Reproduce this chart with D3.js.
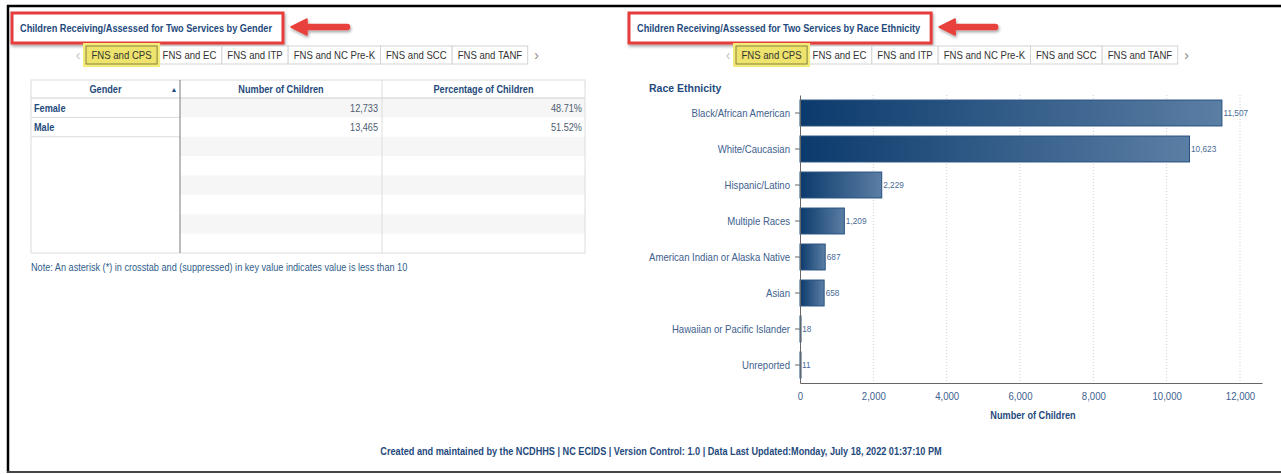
<!DOCTYPE html>
<html lang="en">
<head>
<meta charset="utf-8">
<title>Children Receiving/Assessed for Two Services</title>
<script src="https://d3js.org/d3.v7.min.js"></script>
<style>
body { margin: 0; background: #fff; font-family: "Liberation Sans", Arial, sans-serif; }
svg { display: block; }
</style>
</head>
<body>
<div id="vis"></div>
<script>

/* Data */
/* ==== */

var tabs = ['FNS and CPS', 'FNS and EC', 'FNS and ITP', 'FNS and NC Pre-K', 'FNS and SCC', 'FNS and TANF'];

var genders = ['Female', 'Male'];
var genderCounts = [12733, 13465];
var genderPcts = [48.71, 51.52];

var races = ['Black/African American', 'White/Caucasian', 'Hispanic/Latino', 'Multiple Races',
	'American Indian or Alaska Native', 'Asian', 'Hawaiian or Pacific Islander', 'Unreported'];
var raceCounts = [11507, 10623, 2229, 1209, 687, 658, 18, 11];

var xTicks = [0, 2000, 4000, 6000, 8000, 10000, 12000];

var footer = 'Created and maintained by the NCDHHS | NC ECIDS | Version Control: 1.0 | Data Last Updated:Monday, July 18, 2022 01:37:10 PM';
var note = 'Note: An asterisk (*) in crosstab and (suppressed) in key value indicates value is less than 10';


/* Globals and SVG */
/* =============== */

var W = 1281, H = 474;
var K = 0.87; // the screenshot text is a bit narrow
var navy = '#1f4a7d', soft = '#40618e';

var svg = d3.select('#vis').append('svg')
	.attr('width', W)
	.attr('height', H);

var defs = svg.append('defs');

defs.append('filter').attr('id', 'shadow')
		.attr('x', '-20%').attr('y', '-40%').attr('width', '140%').attr('height', '180%')
	.append('feDropShadow')
		.attr('dx', 1).attr('dy', 2).attr('stdDeviation', 1.5)
		.attr('flood-color', '#000').attr('flood-opacity', 0.35);

var grad = defs.append('linearGradient').attr('id', 'barGrad')
	.attr('x1', 0).attr('x2', 1).attr('y1', 0).attr('y2', 0);
grad.append('stop').attr('offset', '0%').attr('stop-color', '#0b3a6c');
grad.append('stop').attr('offset', '100%').attr('stop-color', '#5b7ea4');


/* Functions */
/* ========= */

function squeeze(sel, k) {
	var f = k || K, w = 0;
	sel.each(function() {
		w = this.getComputedTextLength() * f;
		d3.select(this).attr('textLength', w).attr('lengthAdjust', 'spacingAndGlyphs');
	});
	return w;
} // squeeze()

function drawFrame() {
	svg.append('line').attr('x1', 7).attr('x2', W).attr('y1', 6).attr('y2', 6)
		.attr('stroke', '#000').attr('stroke-width', 2.5);
	svg.append('line').attr('x1', 8).attr('x2', 8).attr('y1', 5).attr('y2', 473)
		.attr('stroke', '#000').attr('stroke-width', 2.5);
	svg.append('line').attr('x1', 7).attr('x2', W).attr('y1', 472).attr('y2', 472)
		.attr('stroke', '#444').attr('stroke-width', 2);
} // drawFrame()

function drawTitle(x, text) {

	var g = svg.append('g');
	var box = g.append('rect');
	var arrow = g.append('path');

	var t = g.append('text')
		.attr('x', x).attr('y', 32)
		.attr('font-size', 11).attr('font-weight', 'bold')
		.attr('fill', navy)
		.text(text);
	var w = squeeze(t, 0.835);

	box.attr('x', x - 8).attr('y', 13)
		.attr('width', w + 19).attr('height', 30)
		.attr('fill', '#fff')
		.attr('stroke', '#e53d3d').attr('stroke-width', 3)
		.attr('filter', 'url(#shadow)');

	var tx = x + w + 19, cy = 27;
	arrow.attr('d', 'M' + tx + ',' + cy +
			' L' + (tx + 16) + ',' + (cy - 8) +
			' L' + (tx + 16) + ',' + (cy - 2.5) +
			' L' + (tx + 56) + ',' + (cy - 2.5) +
			' A2.5,2.5 0 0 1 ' + (tx + 56) + ',' + (cy + 2.5) +
			' L' + (tx + 16) + ',' + (cy + 2.5) +
			' L' + (tx + 16) + ',' + (cy + 8) + ' Z')
		.attr('fill', '#e8403c')
		.attr('stroke', '#e8403c').attr('stroke-width', 1.5).attr('stroke-linejoin', 'round')
		.attr('filter', 'url(#shadow)');

} // drawTitle()

function drawTabs(x0) {

	var g = svg.append('g').attr('font-size', 11);
	var y = 46, h = 18, pad = 5.5;

	g.append('text').attr('x', x0 - 8).attr('y', 60)
		.attr('text-anchor', 'middle').attr('font-size', 14)
		.attr('fill', '#c4c4c4').text('‹');

	var x = x0;
	var selected;
	tabs.forEach(function(label, i) {
		var tg = g.append('g');
		var r = tg.append('rect');
		var t = tg.append('text').attr('x', x + pad).attr('y', 59)
			.attr('fill', '#333').text(label);
		var w = squeeze(t) + pad * 2;
		r.attr('x', x).attr('y', y).attr('width', w).attr('height', h)
			.attr('fill', '#fff').attr('stroke', '#d4d4d4');
		if (i === 0) selected = { g: tg, r: r, x: x, w: w };
		x += w;
	});

	// highlighted tab
	selected.r.attr('fill', '#eee36c').attr('stroke', '#85823c');
	selected.g.insert('rect', ':first-child')
		.attr('x', selected.x - 1.5).attr('y', y - 1.5)
		.attr('width', selected.w + 3).attr('height', h + 3)
		.attr('fill', 'none').attr('stroke', '#f3ec78').attr('stroke-width', 3);
	selected.g.raise();

	g.append('text').attr('x', x + 9).attr('y', 60)
		.attr('text-anchor', 'middle').attr('font-size', 14)
		.attr('fill', '#888').text('›');

} // drawTabs()

function drawTable() {

	var x0 = 31, x1 = 180, x2 = 382, x3 = 585;
	var y0 = 80, hh = 18, nRows = 8, yEnd = 253;
	var rh = (yEnd - y0 - hh) / nRows;

	var g = svg.append('g');
	var rows = d3.range(nRows);

	// striped rows in the measure columns
	g.selectAll('.stripe')
		.data(rows.filter(function(i) { return i % 2 === 0; }))
		.enter().append('rect')
			.attr('class', 'stripe')
			.attr('x', x1).attr('width', x3 - x1)
			.attr('y', function(i) { return y0 + hh + i * rh; })
			.attr('height', rh)
			.attr('fill', '#f6f6f6');

	// row lines in the gender column
	g.selectAll('.rowline')
		.data(genders)
		.enter().append('line')
			.attr('x1', x0).attr('x2', x1)
			.attr('y1', function(d, i) { return y0 + hh + (i + 1) * rh; })
			.attr('y2', function(d, i) { return y0 + hh + (i + 1) * rh; })
			.attr('stroke', '#dcdcdc');

	g.append('rect').attr('x', x0).attr('y', y0)
		.attr('width', x3 - x0).attr('height', yEnd - y0)
		.attr('fill', 'none').attr('stroke', '#dcdcdc');
	g.append('line').attr('x1', x0).attr('x2', x3).attr('y1', y0 + hh).attr('y2', y0 + hh)
		.attr('stroke', '#d0d0d0');
	g.append('line').attr('x1', x2).attr('x2', x2).attr('y1', y0).attr('y2', yEnd)
		.attr('stroke', '#dcdcdc');
	g.append('line').attr('x1', x1).attr('x2', x1).attr('y1', y0).attr('y2', yEnd)
		.attr('stroke', '#7a7a7a');

	// header
	var heads = [
		{ text: 'Gender', x: (x0 + x1) / 2 },
		{ text: 'Number of Children', x: (x1 + x2) / 2 },
		{ text: 'Percentage of Children', x: (x2 + x3) / 2 }
	];
	heads.forEach(function(hd) {
		squeeze(g.append('text')
			.attr('x', hd.x).attr('y', y0 + 13)
			.attr('text-anchor', 'middle')
			.attr('font-size', 10.5).attr('font-weight', 'bold')
			.attr('fill', navy).text(hd.text));
	});
	g.append('text').attr('x', x1 - 6).attr('y', y0 + 12)
		.attr('text-anchor', 'middle').attr('font-size', 7)
		.attr('fill', navy).text('▲');

	// body
	var fmt = d3.format(',');
	genders.forEach(function(gd, i) {
		var ty = y0 + hh + i * rh + rh / 2 + 4;
		squeeze(g.append('text').attr('x', x0 + 3).attr('y', ty)
			.attr('font-size', 10.5).attr('font-weight', 'bold')
			.attr('fill', navy).text(gd));
		squeeze(g.append('text').attr('x', x2 - 4).attr('y', ty)
			.attr('text-anchor', 'end').attr('font-size', 10.5)
			.attr('fill', '#4d5b70').text(fmt(genderCounts[i])));
		squeeze(g.append('text').attr('x', x3 - 3).attr('y', ty)
			.attr('text-anchor', 'end').attr('font-size', 10.5)
			.attr('fill', '#4d5b70').text(genderPcts[i].toFixed(2) + '%'));
	});

	squeeze(svg.append('text').attr('x', 31).attr('y', 271)
		.attr('font-size', 10.5).attr('fill', '#2f5d8c').text(note));

} // drawTable()

function drawBars() {

	var top = 95, bottom = 383, left = 800;

	var x = d3.scaleLinear().domain([0, 12600]).range([left, 1262]);
	var y = d3.scaleBand().domain(races).range([top, bottom])
		.paddingInner(0.28).paddingOuter(0.14);

	var g = svg.append('g');

	// dotted gridlines
	g.selectAll('.grid')
		.data(xTicks.filter(function(d) { return d > 0; }))
		.enter().append('line')
			.attr('class', 'grid')
			.attr('x1', function(d) { return x(d); })
			.attr('x2', function(d) { return x(d); })
			.attr('y1', top).attr('y2', bottom)
			.attr('stroke', '#cfcfcf').attr('stroke-dasharray', '1,2');

	// bars
	g.selectAll('.bar')
		.data(raceCounts)
		.enter().append('rect')
			.attr('class', 'bar')
			.attr('x', left)
			.attr('y', function(d, i) { return y(races[i]); })
			.attr('width', function(d) { return Math.max(x(d) - left, 1); })
			.attr('height', y.bandwidth())
			.attr('fill', 'url(#barGrad)')
			.attr('stroke', '#24507f').attr('stroke-width', 1);

	// value labels
	g.selectAll('.val')
		.data(raceCounts)
		.enter().append('text')
			.attr('class', 'val')
			.attr('x', function(d) { return x(d) + 1.5; })
			.attr('y', function(d, i) { return y(races[i]) + y.bandwidth() / 2; })
			.attr('dy', '0.35em')
			.attr('font-size', 9.5)
			.attr('fill', '#4a6b96')
			.text(d3.format(','));

	// axes
	var yAxis = g.append('g')
		.attr('transform', 'translate(' + left + ',0)')
		.call(d3.axisLeft(y).tickSize(5).tickSizeOuter(0).tickPadding(5));
	yAxis.select('.domain').attr('stroke', '#666');
	yAxis.selectAll('.tick line').attr('stroke', '#666');
	yAxis.selectAll('.tick text')
		.attr('font-family', 'inherit').attr('font-size', 11).attr('fill', soft);

	var xAxis = g.append('g')
		.attr('transform', 'translate(0,' + bottom + ')')
		.call(d3.axisBottom(x).tickValues(xTicks).tickSize(0).tickPadding(9)
			.tickFormat(d3.format(',')));
	xAxis.select('.domain').attr('stroke', '#666');
	xAxis.selectAll('.tick text')
		.attr('font-family', 'inherit').attr('font-size', 11).attr('fill', soft);

	g.append('text')
		.attr('x', (left + 1262) / 2 + 2).attr('y', 419)
		.attr('text-anchor', 'middle')
		.attr('font-size', 10.5).attr('font-weight', 'bold')
		.attr('fill', navy).text('Number of Children');

	svg.append('text').attr('x', 649).attr('y', 92)
		.attr('font-size', 10.5).attr('font-weight', 'bold')
		.attr('fill', navy).text('Race Ethnicity');

	squeeze(g.selectAll('text'));

} // drawBars()


/* Build */
/* ===== */

drawFrame();

drawTitle(20, 'Children Receiving/Assessed for Two Services by Gender');
drawTitle(637, 'Children Receiving/Assessed for Two Services by Race Ethnicity');

drawTabs(86);
drawTabs(736);

drawTable();
drawBars();

squeeze(svg.append('text')
	.attr('x', 661).attr('y', 455)
	.attr('text-anchor', 'middle')
	.attr('font-size', 10.5).attr('font-weight', 'bold')
	.attr('fill', navy).text(footer));

</script>
</body>
</html>
